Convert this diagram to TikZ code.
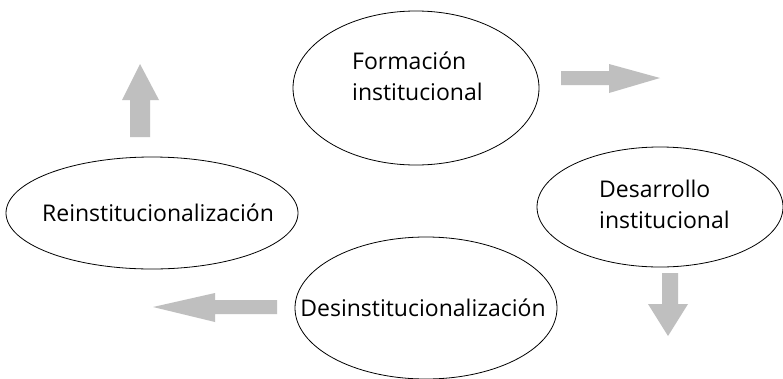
\documentclass[tikz,border=0pt]{standalone}
\usepackage{fontspec}
\setmainfont{Open Sans}
\usetikzlibrary{shapes.geometric}
\begin{document}
\begin{tikzpicture}[x=1pt,y=-1pt,
  oval/.style={ellipse,draw=black,line width=0.8pt,inner sep=0pt},
  lbl/.style={font=\fontsize{23}{31}\selectfont,align=left,inner sep=0pt,text=black},
  garrow/.style={fill=gray!50!white,draw=none}]
\useasboundingbox (0,0) rectangle (783,378);
\fill[white] (0,0) rectangle (783,378);
% ellipses
\node[oval,minimum width=246pt,minimum height=154pt] (form) at (416,88) {};
\node[oval,minimum width=246pt,minimum height=120pt] (desa) at (660,207) {};
\node[oval,minimum width=262pt,minimum height=142pt] (desi) at (426,308) {};
\node[oval,minimum width=292pt,minimum height=112pt] (rein) at (152,213) {};
% labels
\node[lbl,anchor=west] (tform) at (352,76) {Formación\\institucional};
\node[lbl,anchor=west] (tdesa) at (599,204) {Desarrollo\\institucional};
\node[lbl] (tdesi) at (423,308) {Desinstitucionalización};
\node[lbl] (trein) at (158,213) {Reinstitucionalización};
% block arrows
\fill[garrow] (561,71) -- (609,71) -- (609,64) -- (660,78) -- (609,93) -- (609,85) -- (561,85) -- cycle;
\fill[garrow] (662,273) -- (678,273) -- (678,304) -- (688,304) -- (668,336) -- (648,304) -- (662,304) -- cycle;
\fill[garrow] (277,300) -- (215,300) -- (215,293) -- (153,307) -- (215,322) -- (215,314) -- (277,314) -- cycle;
\fill[garrow] (130,137) -- (130,100) -- (122,100) -- (140,64) -- (159,100) -- (150,100) -- (150,137) -- cycle;
\end{tikzpicture}
\end{document}
